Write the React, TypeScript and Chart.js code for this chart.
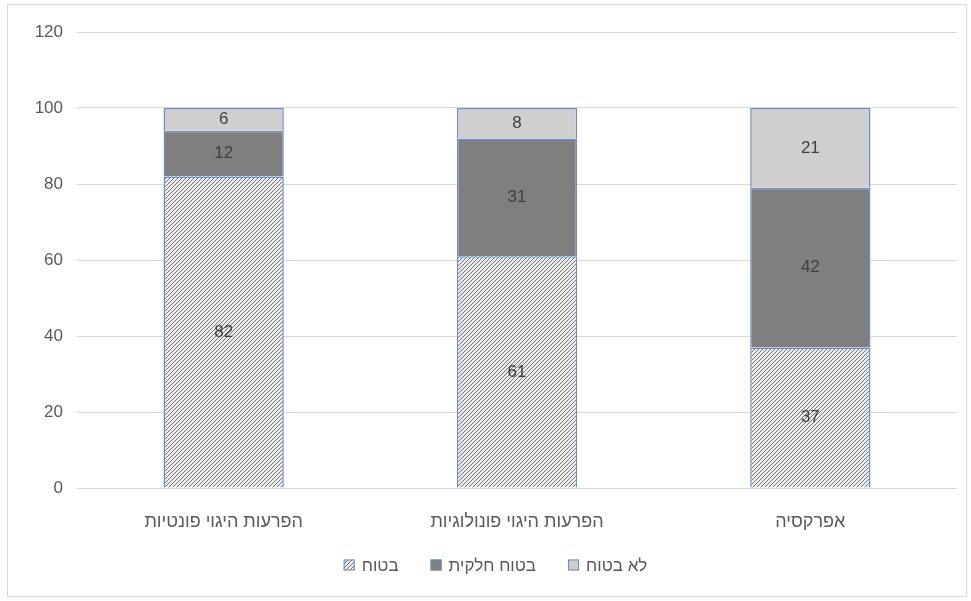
import React, { useEffect, useRef } from "react";
import { Chart, registerables } from "chart.js";

Chart.register(...registerables);

const categories = ["הפרעות היגוי פונטיות", "הפרעות היגוי פונולוגיות", "אפרקסיה"];
const sureValues = [82, 61, 37];
const partlySureValues = [12, 31, 42];
const notSureValues = [6, 8, 21];
const seriesNames = ["בטוח", "בטוח חלקית", "לא בטוח"];
const yTicks = [0, 20, 40, 60, 80, 100, 120];

const FONT = "'Liberation Sans', Arial, 'DejaVu Sans', sans-serif";
const BAR_BORDER = "#6d8cc8";

// Fine "/" hatch used for the first series
function makeHatch(): CanvasPattern | string {
  const c = document.createElement("canvas");
  c.width = 4;
  c.height = 4;
  const g = c.getContext("2d");
  if (!g) return "#bdbdbd";
  g.fillStyle = "#ebebeb";
  g.fillRect(0, 0, 4, 4);
  g.strokeStyle = "#777777";
  g.lineWidth = 1;
  g.beginPath();
  g.moveTo(-1, 5);
  g.lineTo(5, -1);
  g.moveTo(-1, 1);
  g.lineTo(1, -1);
  g.moveTo(3, 5);
  g.lineTo(5, 3);
  g.stroke();
  const p = g.createPattern(c, "repeat");
  return p || "#bdbdbd";
}

const segmentLabels = {
  id: "segmentLabels",
  afterDatasetsDraw(chart: any) {
    const ctx = chart.ctx;
    ctx.save();
    ctx.font = `17px ${FONT}`;
    ctx.fillStyle = "#404040";
    ctx.textAlign = "center";
    ctx.textBaseline = "middle";
    chart.data.datasets.forEach((ds: any, di: number) => {
      const meta = chart.getDatasetMeta(di);
      meta.data.forEach((el: any, i: number) => {
        const v = ds.data[i];
        ctx.fillText(String(v), el.x, (el.y + el.base) / 2);
      });
    });
    ctx.restore();
  },
};

// Legend row under the axis: small swatch followed by the series name
const bottomLegend = {
  id: "bottomLegend",
  afterDraw(chart: any) {
    const ctx = chart.ctx;
    const box = 11;
    const gapText = 7;
    const gapItem = 32;
    ctx.save();
    ctx.font = `17px ${FONT}`;
    ctx.textBaseline = "middle";
    ctx.textAlign = "left";
    const items = chart.data.datasets.map((ds: any) => ({
      label: ds.label,
      fill: ds.backgroundColor,
      w: box + gapText + ctx.measureText(ds.label).width,
    }));
    const total = items.reduce((a: number, it: any) => a + it.w, 0) + gapItem * (items.length - 1);
    let x = chart.width / 2 + 10 - total / 2;
    const y = chart.chartArea.bottom + 77;
    items.forEach((it: any) => {
      ctx.fillStyle = it.fill;
      ctx.fillRect(x, y - box / 2, box, box);
      ctx.strokeStyle = BAR_BORDER;
      ctx.lineWidth = 1;
      ctx.strokeRect(x + 0.5, y - box / 2 + 0.5, box - 1, box - 1);
      ctx.fillStyle = "#595959";
      ctx.fillText(it.label, x + box + gapText, y + 1);
      x += it.w + gapItem;
    });
    ctx.restore();
  },
};

const frame = {
  id: "frame",
  beforeDraw(chart: any) {
    const ctx = chart.ctx;
    ctx.save();
    ctx.fillStyle = "#ffffff";
    ctx.fillRect(0, 0, chart.width, chart.height);
    ctx.strokeStyle = "#d9d9d9";
    ctx.lineWidth = 1;
    ctx.strokeRect(7.5, 4.5, chart.width - 12, chart.height - 9);
    ctx.restore();
  },
};

export default function App() {
  const ref = useRef<HTMLCanvasElement>(null);

  useEffect(() => {
    document.body.style.margin = "0";
    if (!ref.current) return;
    const chart = new Chart(ref.current, {
      type: "bar",
      data: {
        labels: categories,
        datasets: [
          {
            label: seriesNames[0],
            data: sureValues,
            backgroundColor: makeHatch() as any,
            borderColor: BAR_BORDER,
            borderWidth: 1.5,
          },
          {
            label: seriesNames[1],
            data: partlySureValues,
            backgroundColor: "#7f7f7f",
            borderColor: BAR_BORDER,
            borderWidth: 1.5,
          },
          {
            label: seriesNames[2],
            data: notSureValues,
            backgroundColor: "#d0cece",
            borderColor: BAR_BORDER,
            borderWidth: 1.5,
          },
        ],
      },
      options: {
        animation: false,
        responsive: false,
        devicePixelRatio: 1,
        layout: { padding: { left: 17, right: 14, top: 32, bottom: 51 } },
        datasets: { bar: { categoryPercentage: 1, barPercentage: 0.41 } },
        scales: {
          x: {
            stacked: true,
            grid: { display: false, drawTicks: false },
            border: { display: false },
            ticks: { font: { family: FONT, size: 18 }, color: "#595959", padding: 23 },
            afterFit: (s: any) => {
              s.height = 62;
            },
          },
          y: {
            stacked: true,
            min: 0,
            max: 120,
            afterBuildTicks: (s: any) => {
              s.ticks = yTicks.map((v) => ({ value: v }));
            },
            grid: { color: "#d9d9d9", lineWidth: 1, drawTicks: false },
            border: { display: false },
            ticks: { font: { family: FONT, size: 17 }, color: "#595959", padding: 14 },
            afterFit: (s: any) => {
              s.width = 60;
            },
          },
        },
        plugins: {
          legend: { display: false },
          tooltip: { enabled: false },
        },
      },
      plugins: [frame, segmentLabels, bottomLegend],
    });
    return () => chart.destroy();
  }, []);

  return <canvas ref={ref} width={971} height={601} style={{ display: "block" }} />;
}
